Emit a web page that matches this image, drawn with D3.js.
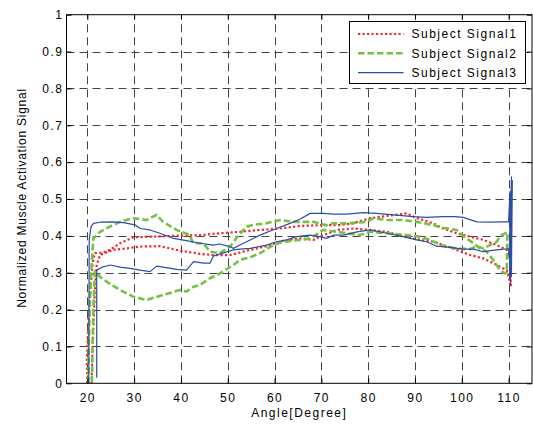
<!DOCTYPE html>
<html>
<head>
<meta charset="utf-8">
<script src="https://cdn.jsdelivr.net/npm/d3@7/dist/d3.min.js"></script>
<style>
  body { margin: 0; background: #fff; }
  text { font-family: "Liberation Sans", Arial, Helvetica, sans-serif; }
</style>
</head>
<body>
<div id="chart"></div>
<script>
// tick values / labels
const xTicks = [20, 30, 40, 50, 60, 70, 80, 90, 100, 110];
const yTicks = [0, 0.1, 0.2, 0.3, 0.4, 0.5, 0.6, 0.7, 0.8, 0.9, 1];
const yTickLabels = ["0", "0.1", "0.2", "0.3", "0.4", "0.5", "0.6", "0.7", "0.8", "0.9", "1"];
const seriesNames = ["Subject Signal1", "Subject Signal2", "Subject Signal3"];

// [angle, signal] (each one is a loop: out along one path, back along the other)
const signal1 = [
  [20.0, 0.0], [19.9, 0.05], [20.0, 0.1], [20.3, 0.18], [20.7, 0.26], [21.2, 0.33], [21.6, 0.353],
  [23.4, 0.355], [24.8, 0.362], [27.0, 0.38], [29.8, 0.396], [34.1, 0.398], [38.4, 0.4], [44.1, 0.402],
  [48.3, 0.407], [52.6, 0.411], [56.9, 0.416], [61.2, 0.42], [65.4, 0.427], [69.7, 0.429], [73.9, 0.429],
  [76.8, 0.434], [80.4, 0.448], [84.0, 0.454], [88.2, 0.461], [90.4, 0.448], [93.9, 0.434], [96.0, 0.42],
  [98.9, 0.407], [101.75, 0.398], [104.6, 0.389], [107.45, 0.375], [109.6, 0.362], [110.3, 0.34],
  [110.4, 0.29], [110.5, 0.262], [110.2, 0.28], [109.6, 0.307], [107.45, 0.321], [104.6, 0.339],
  [101.75, 0.348], [98.9, 0.362], [96.0, 0.375], [93.9, 0.384], [91.1, 0.389], [87.5, 0.398], [84.0, 0.411],
  [80.4, 0.416], [76.8, 0.42], [73.3, 0.416], [69.7, 0.398], [68.3, 0.389], [65.4, 0.393], [61.9, 0.387],
  [58.3, 0.372], [54.8, 0.362], [50.5, 0.348], [46.9, 0.348], [44.1, 0.351], [39.8, 0.36], [35.5, 0.372],
  [31.3, 0.371], [28.4, 0.366], [25.5, 0.362], [22.7, 0.348], [22.0, 0.321], [21.6, 0.25], [21.3, 0.15],
  [21.0, 0.05], [20.9, 0.0]
];
const signal2 = [
  [20.2, 0.0], [20.3, 0.1], [20.5, 0.2], [20.8, 0.3], [21.3, 0.393], [22.7, 0.411], [24.8, 0.425],
  [27.0, 0.438], [29.8, 0.448], [32.7, 0.443], [34.8, 0.457], [36.2, 0.438], [39.1, 0.416], [41.9, 0.402],
  [42.6, 0.38], [44.8, 0.38], [46.2, 0.357], [48.3, 0.353], [50.5, 0.371], [51.9, 0.395], [54.0, 0.425],
  [55.5, 0.43], [58.3, 0.434], [61.2, 0.443], [64.0, 0.438], [68.3, 0.438], [71.1, 0.429], [72.5, 0.434],
  [75.4, 0.434], [79.7, 0.438], [81.1, 0.448], [84.0, 0.443], [87.5, 0.443], [90.4, 0.438], [93.9, 0.429],
  [96.0, 0.422], [98.9, 0.416], [101.0, 0.393], [102.5, 0.38], [103.9, 0.366], [105.3, 0.357],
  [106.7, 0.335], [108.2, 0.307], [109.2, 0.298], [109.6, 0.3], [109.75, 0.41], [109.0, 0.405],
  [108.2, 0.4], [107.45, 0.384], [106.0, 0.375], [104.6, 0.366], [103.2, 0.372], [101.75, 0.364],
  [98.9, 0.366], [96.4, 0.371], [93.2, 0.389], [91.1, 0.398], [88.2, 0.402], [84.0, 0.407], [80.4, 0.411],
  [78.2, 0.402], [73.3, 0.411], [70.4, 0.416], [67.6, 0.393], [65.4, 0.389], [61.9, 0.384], [59.7, 0.375],
  [56.9, 0.353], [54.8, 0.342], [52.6, 0.335], [51.2, 0.321], [48.3, 0.298], [46.2, 0.285], [44.1, 0.267],
  [42.7, 0.262], [41.2, 0.249], [39.8, 0.253], [36.2, 0.24], [32.7, 0.226], [29.8, 0.235], [27.0, 0.253],
  [24.1, 0.276], [22.7, 0.289], [21.6, 0.303], [21.3, 0.2], [21.1, 0.1], [21.0, 0.0]
];
const signal3 = [
  [20.3, 0.0], [20.35, 0.2], [20.4, 0.39], [20.8, 0.425], [21.3, 0.434], [22.7, 0.437], [25.5, 0.438],
  [27.7, 0.436], [30.2, 0.43], [31.3, 0.42], [33.4, 0.416], [35.5, 0.407], [38.4, 0.393], [41.2, 0.387],
  [44.1, 0.38], [46.9, 0.375], [48.3, 0.378], [50.5, 0.371], [51.2, 0.366], [52.6, 0.375], [54.8, 0.389],
  [56.9, 0.402], [60.4, 0.42], [63.3, 0.434], [65.4, 0.445], [67.6, 0.461], [70.4, 0.461], [72.5, 0.459],
  [75.4, 0.459], [79.0, 0.463], [81.8, 0.461], [85.4, 0.457], [89.6, 0.452], [92.5, 0.45], [96.0, 0.452],
  [98.5, 0.452], [100.3, 0.45], [103.2, 0.438], [106.0, 0.437], [108.9, 0.438], [110.0, 0.438],
  [110.3, 0.52], [110.2, 0.3], [110.6, 0.56], [110.4, 0.27], [110.7, 0.5], [110.5, 0.33], [110.8, 0.55],
  [110.6, 0.29], [110.5, 0.48], [110.1, 0.34], [110.0, 0.365],
  [107.45, 0.362], [104.6, 0.357], [102.5, 0.364], [100.3, 0.364], [97.5, 0.369], [94.6, 0.372],
  [92.5, 0.384], [90.4, 0.389], [87.5, 0.398], [84.0, 0.407], [80.4, 0.416], [77.6, 0.411], [74.7, 0.402],
  [72.6, 0.402], [71.1, 0.393], [69.7, 0.398], [67.6, 0.402], [64.7, 0.398], [62.6, 0.389], [60.4, 0.384],
  [58.3, 0.375], [54.8, 0.366], [52.6, 0.364], [51.2, 0.362], [49.1, 0.354], [46.9, 0.345], [46.2, 0.326],
  [44.8, 0.326], [42.7, 0.33], [41.2, 0.307], [39.1, 0.309], [36.2, 0.315], [34.8, 0.318], [33.4, 0.303],
  [31.3, 0.307], [29.1, 0.312], [27.0, 0.315], [24.9, 0.321], [23.4, 0.316], [22.3, 0.309], [22.0, 0.307],
  [22.0, 0.015]
];

const width = 533, height = 426;
const plot = { left: 66.5, right: 532, top: 14.7, bottom: 383.3 };

const svg = d3.select("#chart").append("svg")
  .attr("width", width)
  .attr("height", height);

const x = d3.scaleLinear().domain([15.55, 115]).range([plot.left, plot.right]);
const y = d3.scaleLinear().domain([0, 1]).range([plot.bottom, plot.top]);

// dashed grid
const grid = svg.append("g").attr("stroke", "#444").attr("stroke-width", 1).attr("stroke-dasharray", "8,5");
grid.selectAll(".vgrid").data(xTicks).enter().append("line")
  .attr("x1", d => Math.round(x(d)) + 0.5).attr("x2", d => Math.round(x(d)) + 0.5)
  .attr("y1", plot.bottom).attr("y2", plot.top);
grid.selectAll(".hgrid").data(yTicks.filter(d => d > 0 && d < 1)).enter().append("line")
  .attr("x1", plot.left).attr("x2", plot.right)
  .attr("y1", d => Math.round(y(d)) + 0.5).attr("y2", d => Math.round(y(d)) + 0.5);

// series
const styles = [
  { data: signal1, color: "#ee2b2b", width: 2.2, dash: "2.2,2.3" },
  { data: signal2, color: "#76c043", width: 2.6, dash: "6.5,3" },
  { data: signal3, color: "#2c4ea6", width: 1.2, dash: null }
];
const line = d3.line().x(d => x(d[0])).y(d => y(d[1]));
svg.append("g").selectAll("path").data(styles).enter().append("path")
  .attr("fill", "none")
  .attr("stroke", d => d.color)
  .attr("stroke-width", d => d.width)
  .attr("stroke-dasharray", d => d.dash)
  .attr("stroke-linejoin", "round")
  .attr("d", d => line(d.data));

// axes, MATLAB style: ticks inside on all four sides
const fontSize = 12, spacing = "1.5px";
const xAxis = svg.append("g").attr("transform", `translate(0,${plot.bottom})`)
  .call(d3.axisBottom(x).tickValues(xTicks).tickSizeInner(-5).tickSizeOuter(0).tickPadding(10));
const yAxis = svg.append("g").attr("transform", `translate(${plot.left},0)`)
  .call(d3.axisLeft(y).tickValues(yTicks).tickFormat((d, i) => yTickLabels[i]).tickSizeInner(-5).tickSizeOuter(0).tickPadding(3));
const xTop = svg.append("g").attr("transform", `translate(0,${plot.top})`)
  .call(d3.axisTop(x).tickValues(xTicks).tickSizeInner(-5).tickSizeOuter(0).tickFormat(""));
const yRight = svg.append("g").attr("transform", `translate(${plot.right},0)`)
  .call(d3.axisRight(y).tickValues(yTicks).tickSizeInner(-5).tickSizeOuter(0).tickFormat(""));

[xAxis, yAxis, xTop, yRight].forEach(g => {
  g.select(".domain").remove();
  g.selectAll("line").attr("stroke", "#000");
  g.selectAll("text").attr("font-size", fontSize).attr("fill", "#000")
    .attr("font-family", null).style("letter-spacing", spacing);
});

svg.append("rect")
  .attr("x", plot.left).attr("y", plot.top)
  .attr("width", plot.right - plot.left).attr("height", plot.bottom - plot.top)
  .attr("fill", "none").attr("stroke", "#000").attr("stroke-width", 1);

// axis titles
svg.append("text")
  .attr("x", (plot.left + plot.right) / 2).attr("y", 417)
  .attr("text-anchor", "middle").attr("font-size", fontSize)
  .style("letter-spacing", spacing)
  .text("Angle[Degree]");
svg.append("text")
  .attr("transform", "rotate(-90)")
  .attr("x", -198).attr("y", 26)
  .attr("text-anchor", "middle").attr("font-size", fontSize)
  .style("letter-spacing", "0.75px")
  .text("Normalized Muscle Activation Signal");

// legend
const legend = svg.append("g").attr("transform", "translate(349.5,21.5)");
legend.append("rect").attr("width", 176).attr("height", 62)
  .attr("fill", "#fff").attr("stroke", "#000").attr("stroke-width", 1);
const items = legend.selectAll(".item").data(styles).enter().append("g")
  .attr("transform", (d, i) => `translate(0,${12.5 + i * 19.3})`);
items.append("line")
  .attr("x1", 8.5).attr("x2", 54)
  .attr("stroke", d => d.color)
  .attr("stroke-width", d => d.width)
  .attr("stroke-dasharray", d => d.dash);
items.append("text")
  .attr("x", 62).attr("dy", "0.35em")
  .attr("font-size", fontSize)
  .style("letter-spacing", spacing)
  .text((d, i) => seriesNames[i]);
</script>
</body>
</html>
